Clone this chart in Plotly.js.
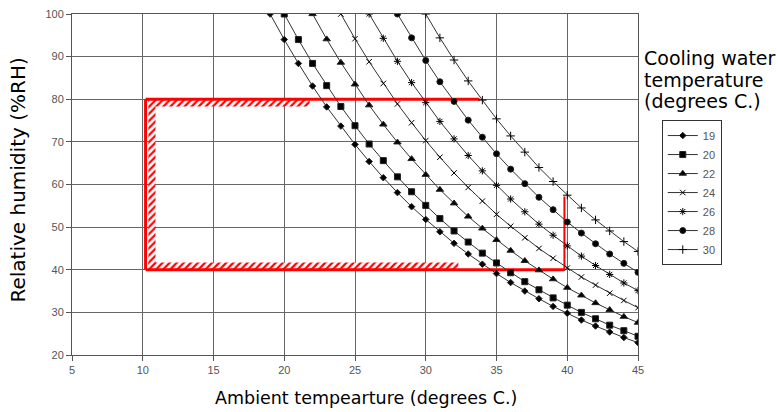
<!DOCTYPE html>
<html><head><meta charset="utf-8">
<script src="https://cdn.plot.ly/plotly-3.0.1.min.js"></script>
<style>html,body{margin:0;padding:0;background:#fff}#c{width:778px;height:412px}</style>
</head><body><div id="c"></div>
<script>
// Cooling water temperature series
const seriesNames = ["19","20","22","24","26","28","30"];
const t19 = [19,20,21,22,23,24,25,26,27,28,29,30,31,32,33,34,35,36,37,38,39,40,41,42,43,44,45];
const rh19 = [100,94.0,88.4,83.1,78.2,73.7,69.4,65.4,61.6,58.1,54.8,51.8,48.9,46.2,43.7,41.3,39.1,37.0,35.0,33.2,31.4,29.8,28.2,26.8,25.4,24.1,22.9];
const t20 = [20,21,22,23,24,25,26,27,28,29,30,31,32,33,34,35,36,37,38,39,40,41,42,43,44,45];
const rh20 = [100,94.0,88.4,83.2,78.3,73.8,69.5,65.6,61.8,58.3,55.1,52.0,49.1,46.5,43.9,41.6,39.3,37.2,35.3,33.4,31.7,30.0,28.5,27.0,25.7,24.4];
const t22 = [22,23,24,25,26,27,28,29,30,31,32,33,34,35,36,37,38,39,40,41,42,43,44,45];
const rh22 = [100,94.1,88.6,83.5,78.6,74.1,69.9,66.0,62.3,58.8,55.6,52.5,49.7,47.0,44.5,42.1,39.9,37.8,35.8,34.0,32.2,30.6,29.0,27.6];
const t24 = [24,25,26,27,28,29,30,31,32,33,34,35,36,37,38,39,40,41,42,43,44,45];
const rh24 = [100,94.2,88.8,83.7,78.9,74.5,70.3,66.4,62.7,59.3,56.1,53.0,50.2,47.5,45.0,42.7,40.4,38.3,36.4,34.5,32.8,31.1];
const t26 = [26,27,28,29,30,31,32,33,34,35,36,37,38,39,40,41,42,43,44,45];
const rh26 = [100,94.3,88.9,83.9,79.2,74.8,70.7,66.8,63.2,59.8,56.6,53.6,50.7,48.1,45.6,43.2,41.0,38.9,36.9,35.1];
const t28 = [28,29,30,31,32,33,34,35,36,37,38,39,40,41,42,43,44,45];
const rh28 = [100,94.4,89.1,84.1,79.5,75.1,71.1,67.2,63.6,60.2,57.0,54.1,51.2,48.6,46.1,43.7,41.5,39.4];
const t30 = [30,31,32,33,34,35,36,37,38,39,40,41,42,43,44,45];
const rh30 = [100,94.4,89.2,84.3,79.8,75.4,71.4,67.6,64.0,60.7,57.5,54.5,51.7,49.1,46.6,44.3];

// Red operating-range box
const boxLeftX = [10.2,10.2];   const boxLeftY = [40,80];
const boxTopX = [10.2,33.8];    const boxTopY = [80,80];
const boxBotX = [10.2,39.8];    const boxBotY = [40,40];
const boxRightX = [39.8,39.8];  const boxRightY = [40,57.2];
// hatched bands
const hatchTopX = [10.4,21.8,21.8,10.4];  const hatchTopY = [80,80,78.3,78.3];
const hatchBotX = [10.4,32.3,32.3,10.4];  const hatchBotY = [40,40,41.7,41.7];
const hatchLeftX = [10.4,10.9,10.9,10.4]; const hatchLeftY = [40,40,80,80];

// Text
const xTitle = "Ambient tempearture (degrees C.)";
const yTitle = "Relative humidity (%RH)";
const legendTitleLines = ["Cooling water","temperature","(degrees C.)"];

const xs = [t19,t20,t22,t24,t26,t28,t30];
const ys = [rh19,rh20,rh22,rh24,rh26,rh28,rh30];
const symbols = ["diamond","square","triangle-up","x-thin-open","asterisk-open","circle","cross-thin-open"];
const sizes = [5,6,6.5,5.5,6,6,6];

const traces = [];
function hatch(x,y){
  traces.push({x:x,y:y,type:"scatter",mode:"lines",fill:"toself",line:{width:0,color:"rgba(0,0,0,0)"},
    fillcolor:"white",fillpattern:{shape:"/",fgcolor:"#ff0000",bgcolor:"#ffffff",size:5,solidity:0.45},
    showlegend:false,hoverinfo:"skip"});
}
hatch(hatchTopX,hatchTopY); hatch(hatchBotX,hatchBotY); hatch(hatchLeftX,hatchLeftY);
function redline(x,y,w){
  traces.push({x:x,y:y,type:"scatter",mode:"lines",line:{color:"#ff0000",width:w},showlegend:false,hoverinfo:"skip"});
}
redline(boxTopX,boxTopY,3); redline(boxBotX,boxBotY,3); redline(boxLeftX,boxLeftY,3); redline(boxRightX,boxRightY,2);

for(let i=0;i<seriesNames.length;i++){
  traces.push({x:xs[i],y:ys[i],name:seriesNames[i],type:"scatter",mode:"lines+markers",
    line:{color:"#333",width:1},
    marker:{symbol:symbols[i],size:sizes[i],color:"#000",line:{color:"#222",width:1}}});
}

const titleFont = "DejaVu Sans, Verdana, sans-serif";
const ann = [
  {xref:"paper",yref:"paper",x:0.5186,y:-0.126,xanchor:"center",yanchor:"middle",showarrow:false,
   text:xTitle,font:{family:titleFont,size:17.5,color:"#000"}},
  {xref:"paper",yref:"paper",x:-0.0954,y:0.5117,xanchor:"center",yanchor:"middle",showarrow:false,textangle:-90,
   text:yTitle,font:{family:titleFont,size:20,color:"#000"}}
];
const legY = [0.871,0.806,0.745];
for(let i=0;i<legendTitleLines.length;i++){
  ann.push({xref:"paper",yref:"paper",x:1.007,y:legY[i],xanchor:"left",yanchor:"middle",showarrow:false,
    text:legendTitleLines[i],font:{family:titleFont,size:19,color:"#000"}});
}

const layout = {
  width:778,height:412,
  margin:{l:72,r:140,t:14,b:57,pad:0},
  paper_bgcolor:"#fff",plot_bgcolor:"#fff",
  font:{family:"Liberation Sans, Arial, sans-serif",color:"#000"},
  xaxis:{range:[5,45],dtick:5,tick0:5,showgrid:true,gridcolor:"#666",gridwidth:1,zeroline:false,
    showline:true,linecolor:"#555",mirror:true,ticks:"outside",ticklen:5,tickcolor:"#555",
    tickfont:{size:11,color:"#555"}},
  yaxis:{range:[20,100],dtick:10,tick0:20,showgrid:true,gridcolor:"#666",gridwidth:1,zeroline:false,
    showline:true,linecolor:"#555",mirror:true,ticks:"outside",ticklen:5,tickcolor:"#555",
    tickfont:{size:11,color:"#555"}},
  legend:{x:1.042,y:0.689,xanchor:"left",yanchor:"top",bordercolor:"#333",borderwidth:1,bgcolor:"#fff",
    font:{size:11,color:"#555"},itemwidth:30,tracegroupgap:0},
  annotations:ann,
  showlegend:true
};
Plotly.newPlot("c",traces,layout,{displayModeBar:false,staticPlot:true});
</script></body></html>
